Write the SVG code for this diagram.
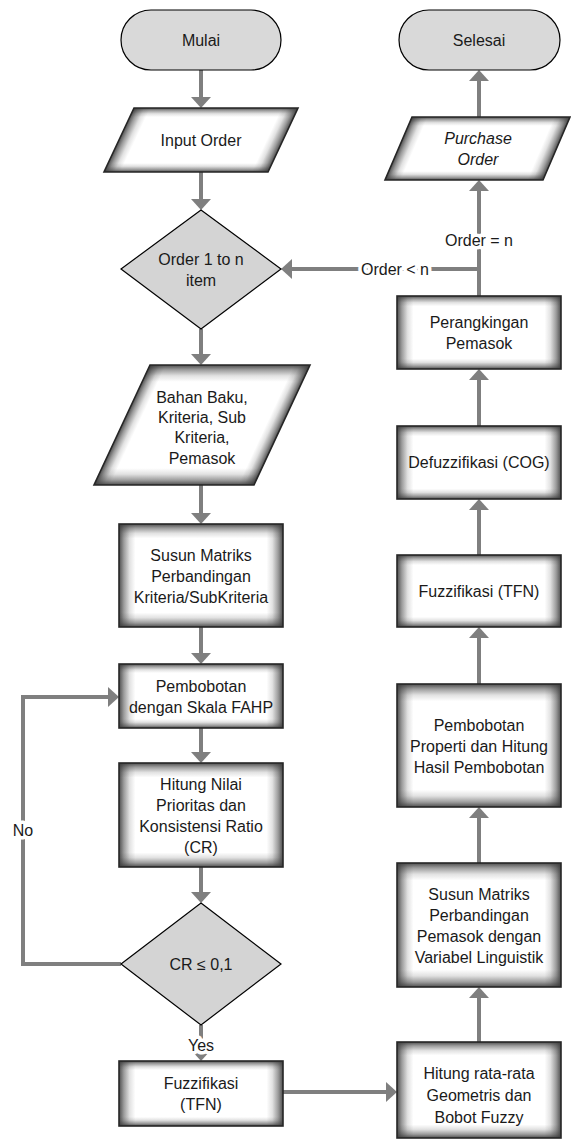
<svg xmlns="http://www.w3.org/2000/svg" width="571" height="1142" viewBox="0 0 571 1142">
<style>
.term{fill:#d9d9d9;stroke:#000;stroke-width:1.2}
.dec{fill:#d4d4d4;stroke:#000;stroke-width:1.2}
.base{fill:#fff}
.gh{fill:url(#gh)}
.gv{fill:url(#gv)}
.edge{fill:none;stroke:#262626;stroke-width:1.6}
text{font-family:"Liberation Sans",Arial,sans-serif;font-size:16px;fill:#1a1a1a;text-anchor:middle;dominant-baseline:central}
.it{font-style:italic}
.lbl{stroke:#fff;stroke-width:7;stroke-linejoin:round;paint-order:stroke}
.conn path{fill:none;stroke:#7f7f7f;stroke-width:4;marker-end:url(#arr)}
</style>
<defs>
<marker id="arr" markerUnits="userSpaceOnUse" markerWidth="11" markerHeight="20" viewBox="0 0 11 20" refX="0" refY="10" orient="auto">
<path d="M0,0 L11,10 L0,20 Z" fill="#7f7f7f"/>
</marker>
<linearGradient id="gh" x1="0" y1="0" x2="1" y2="0">
<stop offset="0" stop-color="#3a3a3a" stop-opacity="0.9"/>
<stop offset="0.03" stop-color="#3a3a3a" stop-opacity="0.5"/>
<stop offset="0.065" stop-color="#3a3a3a" stop-opacity="0.15"/>
<stop offset="0.1" stop-color="#3a3a3a" stop-opacity="0"/>
<stop offset="0.9" stop-color="#3a3a3a" stop-opacity="0"/>
<stop offset="0.935" stop-color="#3a3a3a" stop-opacity="0.15"/>
<stop offset="0.97" stop-color="#3a3a3a" stop-opacity="0.5"/>
<stop offset="1" stop-color="#3a3a3a" stop-opacity="0.9"/>
</linearGradient>
<linearGradient id="gv" x1="0" y1="0" x2="0" y2="1">
<stop offset="0" stop-color="#3a3a3a" stop-opacity="0.9"/>
<stop offset="0.04" stop-color="#3a3a3a" stop-opacity="0.5"/>
<stop offset="0.09" stop-color="#3a3a3a" stop-opacity="0.15"/>
<stop offset="0.14" stop-color="#3a3a3a" stop-opacity="0"/>
<stop offset="0.86" stop-color="#3a3a3a" stop-opacity="0"/>
<stop offset="0.91" stop-color="#3a3a3a" stop-opacity="0.15"/>
<stop offset="0.96" stop-color="#3a3a3a" stop-opacity="0.5"/>
<stop offset="1" stop-color="#3a3a3a" stop-opacity="0.9"/>
</linearGradient>
<linearGradient id="gh-in" href="#gh" gradientUnits="userSpaceOnUse" x1="184.625" y1="0" x2="348.625" y2="0" gradientTransform="skewX(-25.11)"/>
<linearGradient id="gh-bb" href="#gh" gradientUnits="userSpaceOnUse" x1="320.33" y1="0" x2="480.33" y2="0" gradientTransform="skewX(-25.02)"/>
<linearGradient id="gh-po" href="#gh" gradientUnits="userSpaceOnUse" x1="462.14" y1="0" x2="620.14" y2="0" gradientTransform="skewX(-23.2)"/>
</defs>

<g id="connectors" class="conn">
<path d="M201,70 V97"/>
<path d="M201,172 V199"/>
<path d="M201,329 V354"/>
<path d="M201,485 V513"/>
<path d="M201,627 V653"/>
<path d="M201,728 V752"/>
<path d="M201,867 V892"/>
<path d="M201,1025 V1050"/>
<path d="M121,964 H23 V697 H108"/>
<path d="M283,1092 H386"/>
<path d="M479,1042 V998"/>
<path d="M479,863 V818"/>
<path d="M479,684 V638"/>
<path d="M479,555 V510"/>
<path d="M479,426 V380"/>
<path d="M479,296 V191"/>
<path d="M479,269 H292"/>
<path d="M479,117 V81"/>
<text class="lbl" x="479" y="240">Order = n</text>
<text class="lbl" x="395" y="269">Order &lt; n</text>
<text class="lbl" x="23" y="830">No</text>
<text class="lbl" x="201" y="1045">Yes</text>
</g>

<g id="mulai">
<rect class="term" x="121" y="10" width="160" height="60" rx="30"/>
<text x="201" y="40">Mulai</text>
</g>
<g id="input-order">
<polygon class="base" points="134,108 298,108 268,172 104,172"/>
<polygon fill="url(#gh-in)" points="134,108 298,108 268,172 104,172"/>
<polygon class="gv" points="134,108 298,108 268,172 104,172"/>
<polygon class="edge" points="134,108 298,108 268,172 104,172"/>
<text x="201" y="140">Input Order</text>
</g>
<g id="order-item">
<polygon class="dec" points="201,210 281,269 201,329 121,269"/>
<text x="201" y="259">Order 1 to n</text>
<text x="201" y="280">item</text>
</g>
<g id="bahan-baku">
<polygon class="base" points="150,365 310,365 254,485 94,485"/>
<polygon fill="url(#gh-bb)" points="150,365 310,365 254,485 94,485"/>
<polygon class="gv" points="150,365 310,365 254,485 94,485"/>
<polygon class="edge" points="150,365 310,365 254,485 94,485"/>
<text x="202" y="397">Bahan Baku,</text>
<text x="202" y="417">Kriteria, Sub</text>
<text x="202" y="437">Kriteria,</text>
<text x="202" y="458">Pemasok</text>
</g>
<g id="susun-kriteria">
<rect class="base" x="119" y="524" width="164" height="103"/>
<rect class="gh" x="119" y="524" width="164" height="103"/>
<rect class="gv" x="119" y="524" width="164" height="103"/>
<rect class="edge" x="119" y="524" width="164" height="103"/>
<text x="201" y="555">Susun Matriks</text>
<text x="201" y="576">Perbandingan</text>
<text x="201" y="597">Kriteria/SubKriteria</text>
</g>
<g id="pembobotan-fahp">
<rect class="base" x="119" y="664" width="164" height="64"/>
<rect class="gh" x="119" y="664" width="164" height="64"/>
<rect class="gv" x="119" y="664" width="164" height="64"/>
<rect class="edge" x="119" y="664" width="164" height="64"/>
<text x="201" y="686">Pembobotan</text>
<text x="201" y="707">dengan Skala FAHP</text>
</g>
<g id="hitung-nilai">
<rect class="base" x="119" y="763" width="164" height="104"/>
<rect class="gh" x="119" y="763" width="164" height="104"/>
<rect class="gv" x="119" y="763" width="164" height="104"/>
<rect class="edge" x="119" y="763" width="164" height="104"/>
<text x="201" y="784">Hitung Nilai</text>
<text x="201" y="805">Prioritas dan</text>
<text x="201" y="826">Konsistensi Ratio</text>
<text x="201" y="847">(CR)</text>
</g>
<g id="cr-check">
<polygon class="dec" points="201,903 281,964 201,1025 121,964"/>
<text x="201" y="964">CR ≤ 0,1</text>
</g>
<g id="fuzzifikasi-left">
<rect class="base" x="119" y="1061" width="164" height="65"/>
<rect class="gh" x="119" y="1061" width="164" height="65"/>
<rect class="gv" x="119" y="1061" width="164" height="65"/>
<rect class="edge" x="119" y="1061" width="164" height="65"/>
<text x="201" y="1083">Fuzzifikasi</text>
<text x="201" y="1104">(TFN)</text>
</g>
<g id="hitung-rata">
<rect class="base" x="397" y="1042" width="164" height="96"/>
<rect class="gh" x="397" y="1042" width="164" height="96"/>
<rect class="gv" x="397" y="1042" width="164" height="96"/>
<rect class="edge" x="397" y="1042" width="164" height="96"/>
<text x="479" y="1073">Hitung rata-rata</text>
<text x="479" y="1095">Geometris dan</text>
<text x="479" y="1117">Bobot Fuzzy</text>
</g>
<g id="susun-pemasok">
<rect class="base" x="397" y="863" width="164" height="124"/>
<rect class="gh" x="397" y="863" width="164" height="124"/>
<rect class="gv" x="397" y="863" width="164" height="124"/>
<rect class="edge" x="397" y="863" width="164" height="124"/>
<text x="479" y="894">Susun Matriks</text>
<text x="479" y="915">Perbandingan</text>
<text x="479" y="936">Pemasok dengan</text>
<text x="479" y="957">Variabel Linguistik</text>
</g>
<g id="pembobotan-properti">
<rect class="base" x="397" y="684" width="164" height="123"/>
<rect class="gh" x="397" y="684" width="164" height="123"/>
<rect class="gv" x="397" y="684" width="164" height="123"/>
<rect class="edge" x="397" y="684" width="164" height="123"/>
<text x="479" y="725">Pembobotan</text>
<text x="479" y="746">Properti dan Hitung</text>
<text x="479" y="767">Hasil Pembobotan</text>
</g>
<g id="fuzzifikasi-right">
<rect class="base" x="397" y="555" width="164" height="72"/>
<rect class="gh" x="397" y="555" width="164" height="72"/>
<rect class="gv" x="397" y="555" width="164" height="72"/>
<rect class="edge" x="397" y="555" width="164" height="72"/>
<text x="479" y="591">Fuzzifikasi (TFN)</text>
</g>
<g id="defuzzifikasi">
<rect class="base" x="397" y="426" width="164" height="73"/>
<rect class="gh" x="397" y="426" width="164" height="73"/>
<rect class="gv" x="397" y="426" width="164" height="73"/>
<rect class="edge" x="397" y="426" width="164" height="73"/>
<text x="479" y="462">Defuzzifikasi (COG)</text>
</g>
<g id="perangkingan">
<rect class="base" x="397" y="296" width="164" height="73"/>
<rect class="gh" x="397" y="296" width="164" height="73"/>
<rect class="gv" x="397" y="296" width="164" height="73"/>
<rect class="edge" x="397" y="296" width="164" height="73"/>
<text x="479" y="322">Perangkingan</text>
<text x="479" y="343">Pemasok</text>
</g>
<g id="purchase-order">
<polygon class="base" points="412,117 570,117 543,180 385,180"/>
<polygon fill="url(#gh-po)" points="412,117 570,117 543,180 385,180"/>
<polygon class="gv" points="412,117 570,117 543,180 385,180"/>
<polygon class="edge" points="412,117 570,117 543,180 385,180"/>
<text class="it" x="478" y="138">Purchase</text>
<text class="it" x="478" y="159">Order</text>
</g>
<g id="selesai">
<rect class="term" x="399" y="10" width="161" height="60" rx="30"/>
<text x="479" y="40">Selesai</text>
</g>
</svg>
